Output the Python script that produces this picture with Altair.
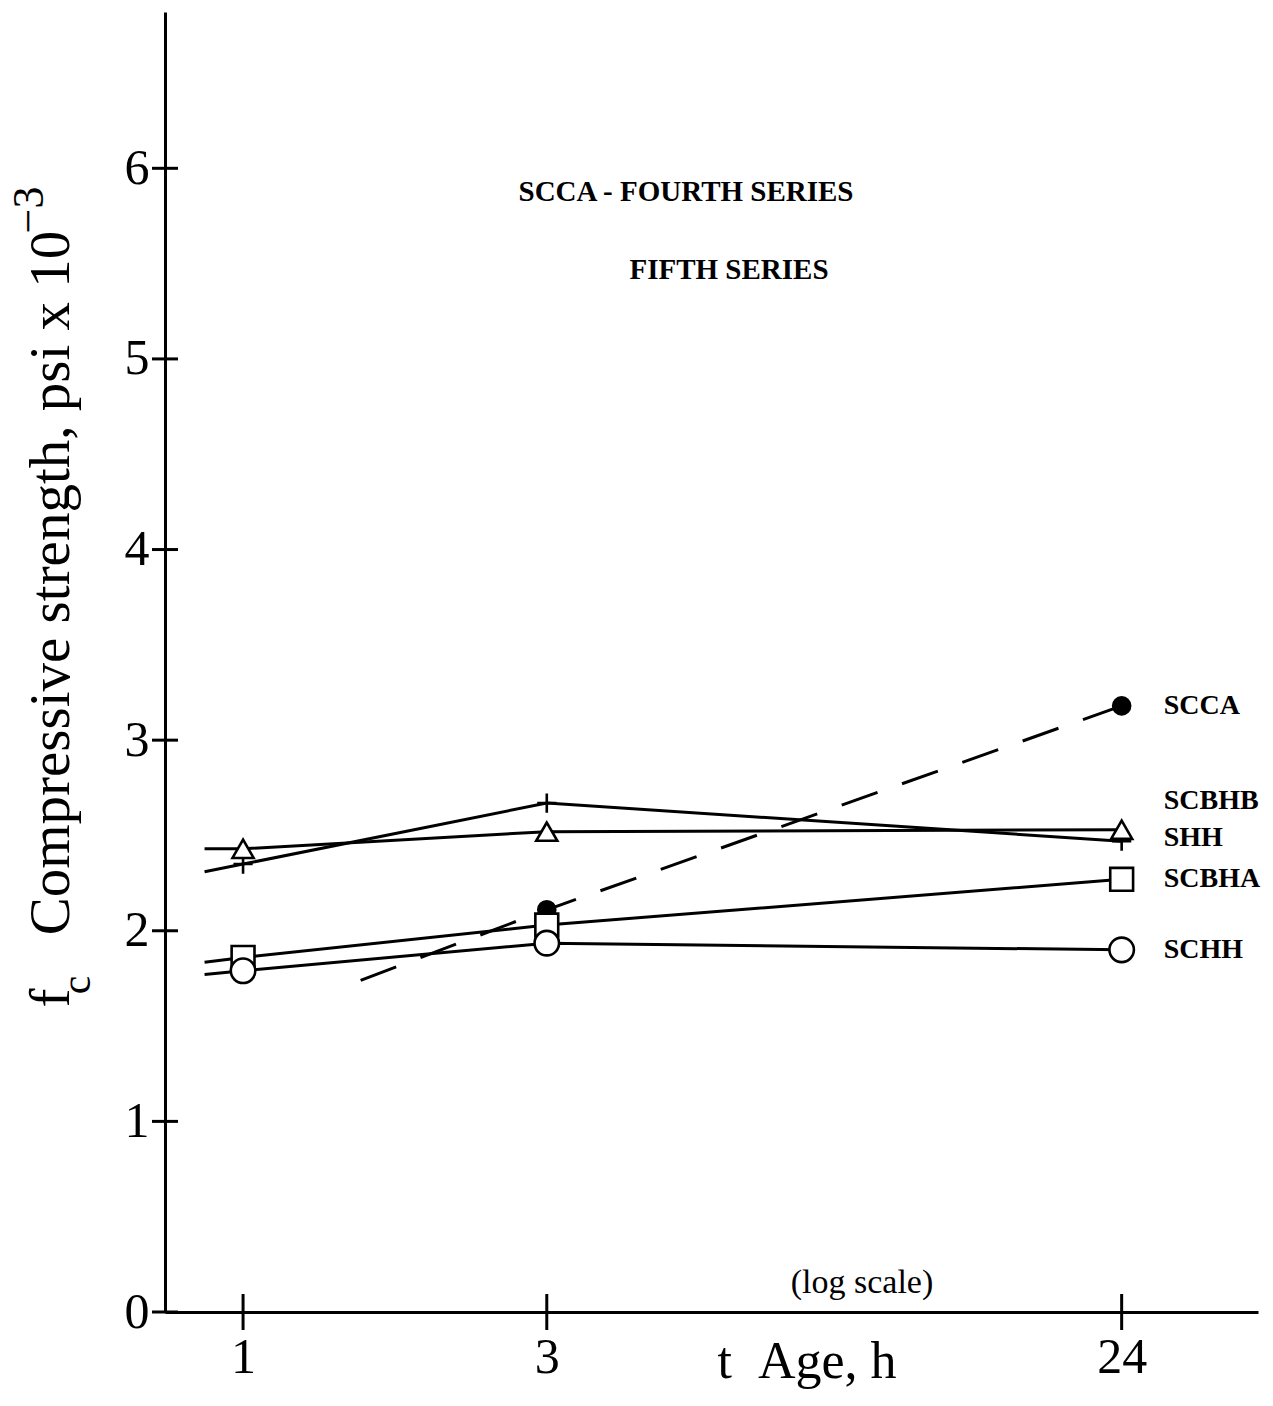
import altair as alt
import pandas as pd

# Compressive strength (psi x 10^-3) at each age (h)
ages = [1, 3, 24]
series_names = ["SCCA", "SCBHB", "SHH", "SCBHA", "SCHH"]
strength = {
    "SCCA": [None, 2.11, 3.18],
    "SCBHB": [2.35, 2.67, 2.47],
    "SHH": [2.43, 2.52, 2.53],
    "SCBHA": [1.86, 2.03, 2.27],
    "SCHH": [1.79, 1.935, 1.90],
}
# where each drawn line begins, left of the first test age
line_start_age = [1.53, 0.87, 0.87, 0.87, 0.87]
line_start_val = [1.74, 2.31, 2.43, 1.835, 1.77]

y_ticks = [0, 1, 2, 3, 4, 5, 6]
x_ticks = [1, 3, 24]

FONT = "Liberation Serif"
W, H = 1093, 1300

pts, lines = [], []
for name, a0, v0 in zip(series_names, line_start_age, line_start_val):
    lines.append({"series": name, "age": a0, "value": v0, "order": 0})
    for i, (a, v) in enumerate(zip(ages, strength[name])):
        if v is None:
            continue
        pts.append({"series": name, "age": a, "value": v})
        lines.append({"series": name, "age": a, "value": v, "order": i + 1})
pts = pd.DataFrame(pts)
lines = pd.DataFrame(lines)
last = pts[pts["age"] == 24]

xs = alt.Scale(type="log", domain=[0.754, 39.3], nice=False, zero=False)
ys = alt.Scale(domain=[0, 6.82], nice=False, zero=False)

x_enc = alt.X("age:Q", scale=xs, axis=alt.Axis(
    values=x_ticks, title=None, ticks=False, grid=False, labelFontSize=50,
    labelFont=FONT, labelPadding=20, labelColor="black", domainColor="black",
    domainWidth=3, labelExpr="datum.value"))
y_enc = alt.Y("value:Q", scale=ys, axis=alt.Axis(
    values=y_ticks, title=None, ticks=False, grid=False, labelFontSize=50,
    labelFont=FONT, labelPadding=16, labelColor="black", domainColor="black",
    domainWidth=3, labelBaseline="middle", format="d"))

solid = alt.Chart(lines).transform_filter(alt.datum.series != "SCCA").mark_line(
    color="black", strokeWidth=3).encode(
    x=x_enc, y=y_enc, detail="series:N", order="order:Q")

dashed = alt.Chart(lines).transform_filter(alt.datum.series == "SCCA").mark_line(
    color="black", strokeWidth=3, strokeDash=[38, 26]).encode(
    x=alt.X("age:Q", scale=xs), y=alt.Y("value:Q", scale=ys), order="order:Q")

shape_scale = alt.Scale(
    domain=series_names,
    range=["circle", "M-1,0L1,0M0,-1L0,1", "triangle-up", "square", "circle"])
fill_scale = alt.Scale(domain=series_names,
                       range=["black", "white", "white", "white", "white"])
size_scale = alt.Scale(domain=series_names, range=[290, 600, 380, 330, 400])

markers = alt.Chart(pts).mark_point(
    filled=True, stroke="black", strokeWidth=2.6, opacity=1).encode(
    x=alt.X("age:Q", scale=xs), y=alt.Y("value:Q", scale=ys),
    shape=alt.Shape("series:N", scale=shape_scale, legend=None),
    fill=alt.Fill("series:N", scale=fill_scale, legend=None),
    size=alt.Size("series:N", scale=size_scale, legend=None))

label_style = dict(align="left", baseline="middle", font=FONT, fontSize=28,
                   fontWeight="bold", color="black", dx=42)
labels = alt.Chart(last).transform_filter(
    (alt.datum.series != "SCBHB") & (alt.datum.series != "SHH")).mark_text(
    **label_style).encode(x=alt.X("age:Q", scale=xs), y=alt.Y("value:Q", scale=ys),
                          text="series:N")
label_b = alt.Chart(last).transform_filter(alt.datum.series == "SCBHB").mark_text(
    dy=-40, **label_style).encode(x=alt.X("age:Q", scale=xs),
                                  y=alt.Y("value:Q", scale=ys), text="series:N")
label_s = alt.Chart(last).transform_filter(alt.datum.series == "SHH").mark_text(
    dy=8, **label_style).encode(x=alt.X("age:Q", scale=xs),
                                y=alt.Y("value:Q", scale=ys), text="series:N")

# tick marks crossing the axes
yt = alt.Chart(pd.DataFrame({"v": y_ticks})).mark_rule(
    color="black", strokeWidth=3).encode(
    y=alt.Y("v:Q", scale=ys), x=alt.value(-13), x2=alt.value(13))
xt = alt.Chart(pd.DataFrame({"a": x_ticks})).mark_rule(
    color="black", strokeWidth=3).encode(
    x=alt.X("a:Q", scale=xs), y=alt.value(H - 18), y2=alt.value(H + 18))


def note(text, x, y, size, weight="bold", angle=0, align="center",
         baseline="middle"):
    return alt.Chart(pd.DataFrame({"t": [text]})).mark_text(
        font=FONT, fontSize=size, fontWeight=weight, color="black",
        angle=angle, align=align, baseline=baseline).encode(
        x=alt.value(x), y=alt.value(y), text="t:N")


notes = [
    note("SCCA - FOURTH SERIES", 521, 180, 29),
    note("FIFTH SERIES", 564, 258, 29),
    note("(log scale)", 697, 1271, 34, weight="normal"),
    note("t\u00a0\u00a0Age, h", 642, H + 66, 52, weight="normal",
         baseline="alphabetic"),
    note("f", -113, 986, 57, weight="normal", angle=270),
    note("c", -88, 973, 42, weight="normal", angle=270),
    note("Compressive strength, psi x 10", -113, 571, 57, weight="normal",
         angle=270),
    note("\u22123", -135, 198, 44, weight="normal", angle=270),
]

chart = alt.layer(solid, dashed, yt, xt, markers, labels, label_b, label_s,
                  *notes).properties(
    width=W, height=H,
    autosize=alt.AutoSizeParams(type="none"),
    padding={"left": 165, "top": 12, "right": 15, "bottom": 94},
    background="white",
).configure_view(stroke=None)

chart.save("out.html", embed_options={"renderer": "svg", "actions": False})
